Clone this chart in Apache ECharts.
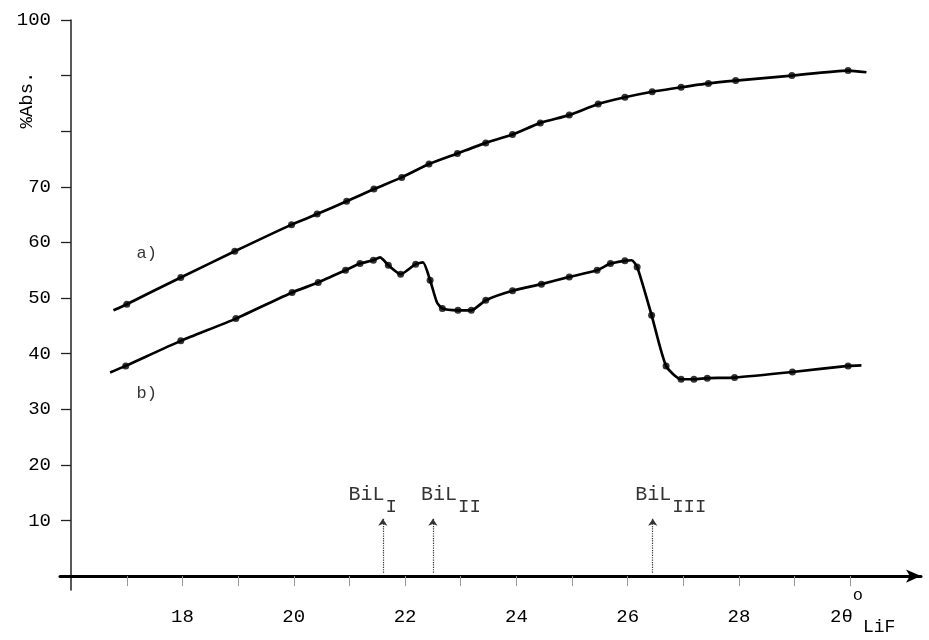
<!DOCTYPE html>
<html lang="en">
<head>
    <title>%Abs. - 2θ LiF</title>
    <meta charset="utf-8">
    <style>
        html, body { margin: 0; padding: 0; background: #fff; }
        #chart { width: 929px; height: 640px; }
    </style>
    <script src="https://cdn.jsdelivr.net/npm/echarts@6/dist/echarts.min.js"></script>
</head>
<body>
    <div id="chart"></div>
    <script type="text/javascript">
        // x = 2θ (LiF), y = %Abs.
        var xTickValues = [17, 18, 19, 20, 21, 22, 23, 24, 25, 26, 27, 28, 29, 30];
        var xLabelValues = [18, 20, 22, 24, 26, 28];
        var yTickValues = [10, 20, 30, 40, 50, 60, 70, 80, 90, 100];
        var yLabelValues = [10, 20, 30, 40, 50, 60, 70, 100];

        // curve a) measured points
        var dotsA = [[17.0, 48.9], [17.97, 53.7], [18.94, 58.4], [19.96, 63.2], [20.42, 65.1], [20.95, 67.4],
            [21.44, 69.6], [21.94, 71.7], [22.43, 74.1], [22.94, 76.0], [23.45, 77.9], [23.93, 79.4],
            [24.43, 81.5], [24.95, 82.9], [25.47, 84.9], [25.95, 86.1], [26.44, 87.1], [26.96, 87.9],
            [27.45, 88.6], [27.94, 89.1], [28.95, 90.0], [29.96, 90.9]];
        // ends of the drawn curve a)
        var endsA = [[16.76, 47.8], [30.29, 90.6]];

        // curve b) measured points
        var dotsB = [[16.98, 37.8], [17.97, 42.3], [18.96, 46.3], [19.97, 51.0], [20.44, 52.8], [20.93, 55.0],
            [21.19, 56.2], [21.43, 56.8], [21.70, 55.9], [21.92, 54.3], [22.19, 56.1], [22.45, 53.2],
            [22.67, 48.1], [22.95, 47.8], [23.19, 47.8], [23.45, 49.6], [23.93, 51.3], [24.45, 52.5],
            [24.95, 53.8], [25.45, 55.0], [25.69, 56.2], [25.95, 56.7], [26.17, 55.6], [26.43, 46.9],
            [26.69, 37.8], [26.96, 35.4], [27.19, 35.4], [27.43, 35.6], [27.92, 35.7], [28.96, 36.7],
            [29.96, 37.8]];
        // extra vertices of the drawn curve b) (ends, bumps)
        var bendsB = [[16.7, 36.6], [21.55, 57.3], [22.32, 56.4], [22.57, 49.3], [26.07, 56.8], [30.2, 37.9]];

        // absorption edges
        var edgeX = [21.6, 22.5, 26.45];
        var edgeSub = ['I', 'II', 'III'];

        // curve tags
        var tagText = ['a)', 'b)'];
        var tagAt = [[17.36, 58.1], [17.36, 32.9]];

        var mono = "'Liberation Mono', 'DejaVu Sans Mono', monospace";
        var ink = '#000';

        function byX(a, b) { return a[0] - b[0]; }
        var traceA = [endsA[0]].concat(dotsA, [endsA[1]]);
        var traceB = dotsB.concat(bendsB).sort(byX);

        var option = {
            animation: false,
            backgroundColor: '#fff',
            grid: { left: 60, right: 8, top: 20, bottom: 50, containLabel: false },
            xAxis: {
                type: 'value',
                min: 15.8,
                max: 31.27,
                name: '{m|2θ}{o|o}{s|LiF}',
                nameLocation: 'end',
                nameGap: -91,
                nameTextStyle: {
                    align: 'left',
                    verticalAlign: 'top',
                    padding: [11, 0, 0, 0],
                    rich: {
                        m: { fontFamily: mono, fontSize: 19, color: ink },
                        o: { fontFamily: mono, fontSize: 17, color: ink, padding: [0, 0, 42, 0] },
                        s: { fontFamily: mono, fontSize: 18, color: ink, padding: [22, 0, 0, 0] }
                    }
                },
                axisLine: {
                    onZero: true,
                    symbol: ['none', 'arrow'],
                    symbolSize: [10, 15],
                    lineStyle: { color: ink, width: 3 }
                },
                axisTick: {
                    customValues: xTickValues,
                    length: 10,
                    lineStyle: { color: '#999', width: 1 }
                },
                axisLabel: {
                    customValues: xLabelValues,
                    margin: 17,
                    fontFamily: mono,
                    fontSize: 19,
                    color: ink
                },
                splitLine: { show: false }
            },
            yAxis: {
                type: 'value',
                min: -2.5,
                max: 100,
                offset: -11,
                axisLine: { show: true, onZero: false, lineStyle: { color: '#222', width: 1.5 } },
                axisTick: {
                    customValues: yTickValues,
                    length: 10,
                    lineStyle: { color: '#222', width: 1.3 }
                },
                axisLabel: {
                    customValues: yLabelValues,
                    margin: 20,
                    fontFamily: mono,
                    fontSize: 19,
                    color: ink
                },
                splitLine: { show: false }
            },
            graphic: [{
                type: 'text',
                x: 27,
                y: 100,
                rotation: Math.PI / 2,
                style: {
                    text: '%Abs.',
                    font: "19px 'Liberation Mono', monospace",
                    fill: ink,
                    align: 'center',
                    verticalAlign: 'middle'
                }
            }],
            series: [
                {
                    name: 'a', type: 'line', data: traceA, showSymbol: false, smooth: 0.2,
                    lineStyle: { color: ink, width: 2.7 }, silent: true
                },
                {
                    name: 'a dots', type: 'scatter', data: dotsA, symbolSize: 7,
                    itemStyle: { color: ink }, silent: true
                },
                {
                    name: 'b', type: 'line', data: traceB, showSymbol: false, smooth: 0.2,
                    lineStyle: { color: ink, width: 2.7 }, silent: true
                },
                {
                    name: 'b dots', type: 'scatter', data: dotsB, symbolSize: 7,
                    itemStyle: { color: ink }, silent: true
                },
                {
                    name: 'edges', type: 'scatter', symbolSize: 0, silent: true,
                    data: edgeX.map(function (x, i) {
                        return {
                            value: [x, 10.3],
                            label: { offset: [i === 0 ? -10 : 18, 0] },
                            sub: edgeSub[i]
                        };
                    }),
                    label: {
                        show: true,
                        position: 'top',
                        distance: 2,
                        formatter: function (p) { return '{b|BiL}{s|' + p.data.sub + '}'; },
                        rich: {
                            b: { fontFamily: mono, fontSize: 20, color: ink },
                            s: { fontFamily: mono, fontSize: 19, color: ink, padding: [26, 0, 0, 1] }
                        }
                    },
                    markLine: {
                        silent: true,
                        symbol: ['none', 'arrow'],
                        symbolSize: 7,
                        label: { show: false },
                        lineStyle: { type: 'dotted', color: '#333', width: 1.2 },
                        data: edgeX.map(function (x) {
                            return [{ coord: [x, 0.6] }, { coord: [x, 10.3] }];
                        })
                    }
                },
                {
                    name: 'tags', type: 'scatter', symbolSize: 0, silent: true,
                    data: tagAt.map(function (p, i) { return { value: p, tag: tagText[i] }; }),
                    label: {
                        show: true,
                        position: 'inside',
                        formatter: function (p) { return p.data.tag; },
                        fontFamily: mono,
                        fontSize: 17,
                        color: ink
                    }
                }
            ]
        };

        var mychart = echarts.init(document.getElementById('chart'));
        mychart.setOption(option);
    </script>
</body>
</html>
